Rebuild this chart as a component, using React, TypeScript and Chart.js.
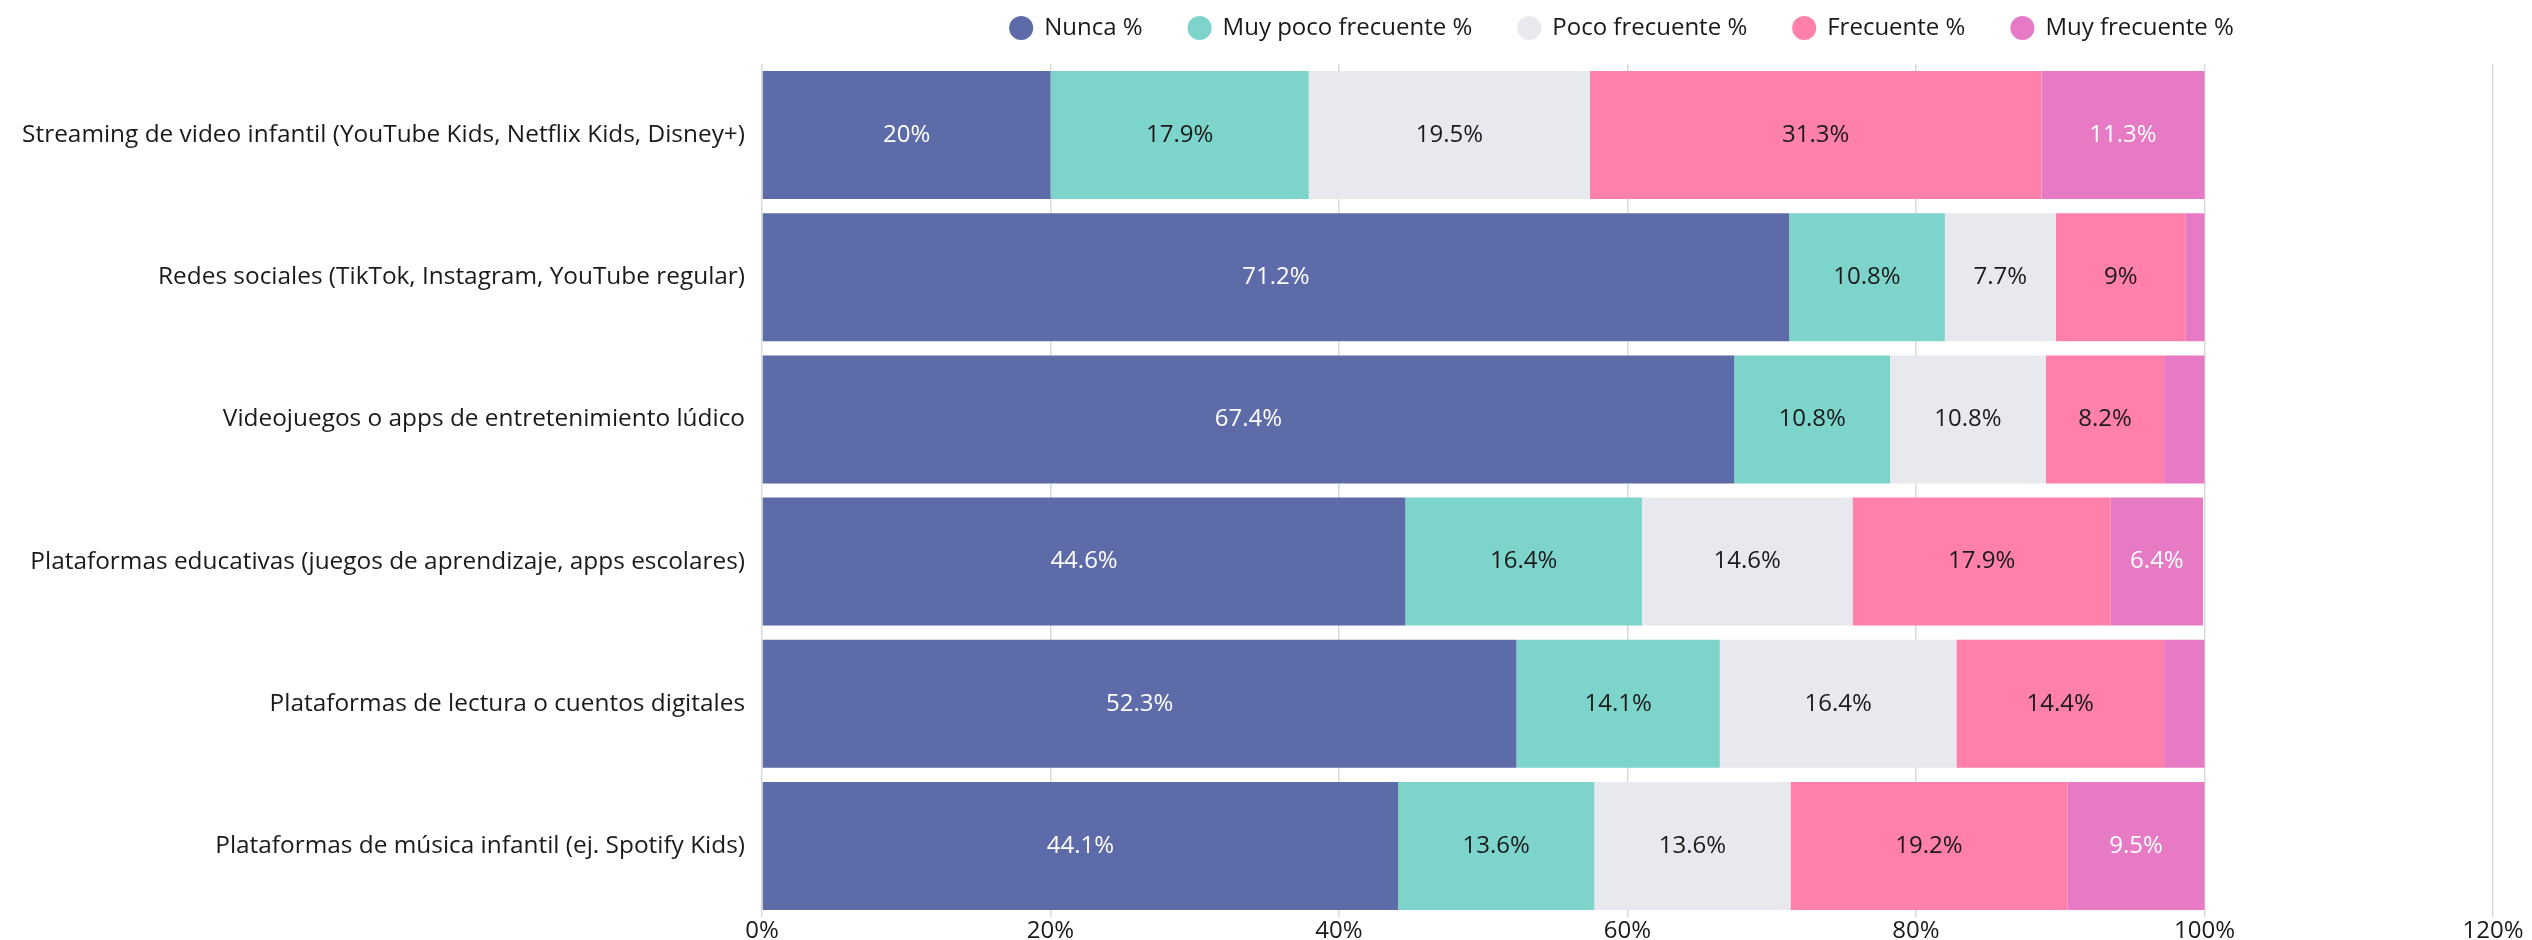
import React, { useEffect, useRef } from "react";
import { Chart, registerables } from "chart.js";

Chart.register(...registerables);

const FONT = "'Open Sans', sans-serif";
const FONT_SIZE = 24;
const Y_FONT_SIZE = 24.4;

const categories = [
  "Streaming de video infantil (YouTube Kids, Netflix Kids, Disney+)",
  "Redes sociales (TikTok, Instagram, YouTube regular)",
  "Videojuegos o apps de entretenimiento lúdico",
  "Plataformas educativas (juegos de aprendizaje, apps escolares)",
  "Plataformas de lectura o cuentos digitales",
  "Plataformas de música infantil (ej. Spotify Kids)",
];

const seriesNames = [
  "Nunca %",
  "Muy poco frecuente %",
  "Poco frecuente %",
  "Frecuente %",
  "Muy frecuente %",
];

const nunca = [20, 71.2, 67.4, 44.6, 52.3, 44.1];
const muyPocoFrecuente = [17.9, 10.8, 10.8, 16.4, 14.1, 13.6];
const pocoFrecuente = [19.5, 7.7, 10.8, 14.6, 16.4, 13.6];
const frecuente = [31.3, 9, 8.2, 17.9, 14.4, 19.2];
const muyFrecuente = [11.3, 1.3, 2.8, 6.4, 2.8, 9.5];

const xTickValues = [0, 20, 40, 60, 80, 100, 120];

const seriesColors = ["#5D6BA8", "#7DD4CB", "#E8E9EE", "#FF80AB", "#E77AC4"];
const labelColors = ["#FFFFFF", "#1A1A1A", "#1A1A1A", "#1A1A1A", "#FFFFFF"];

const valueLabels = {
  id: "valueLabels",
  afterDatasetsDraw(chart: any) {
    const ctx = chart.ctx;
    ctx.save();
    ctx.font = `${FONT_SIZE}px ${FONT}`;
    ctx.textAlign = "center";
    ctx.textBaseline = "middle";
    chart.data.datasets.forEach((ds: any, di: number) => {
      const meta = chart.getDatasetMeta(di);
      meta.data.forEach((el: any, i: number) => {
        const v = ds.data[i];
        if (v < 5) return;
        const { x, base, y } = el.getProps(["x", "base", "y"], true);
        ctx.fillStyle = labelColors[di];
        ctx.fillText(`${v}%`, (x + base) / 2, y);
      });
    });
    ctx.restore();
  },
};

const topLegend = {
  id: "topLegend",
  afterDraw(chart: any) {
    const { ctx, chartArea } = chart;
    ctx.save();
    ctx.font = `${FONT_SIZE}px ${FONT}`;
    const R = 12;
    const GAP_TEXT = 23;
    const GAP_ITEM = 45;
    const items = chart.data.datasets.map((ds: any) => ({
      label: ds.label,
      color: ds.backgroundColor,
      w: ctx.measureText(ds.label).width,
    }));
    const total =
      items.reduce((s: number, it: any) => s + R + GAP_TEXT + it.w, 0) +
      GAP_ITEM * (items.length - 1);
    let x = (chartArea.left + chartArea.right) / 2 - 6 - total / 2;
    const y = 28;
    items.forEach((it: any) => {
      ctx.beginPath();
      ctx.fillStyle = it.color;
      ctx.arc(x + R, y, R, 0, Math.PI * 2);
      ctx.fill();
      ctx.fillStyle = "#1A1A1A";
      ctx.textAlign = "left";
      ctx.textBaseline = "middle";
      ctx.fillText(it.label, x + R + GAP_TEXT, y);
      x += R + GAP_TEXT + it.w + GAP_ITEM;
    });
    ctx.restore();
  },
};

export default function App() {
  const canvasRef = useRef<HTMLCanvasElement | null>(null);

  useEffect(() => {
    const canvas = canvasRef.current;
    if (!canvas) return;
    const seriesValues = [nunca, muyPocoFrecuente, pocoFrecuente, frecuente, muyFrecuente];
    const chart = new Chart(canvas, {
      type: "bar",
      data: {
        labels: categories,
        datasets: seriesNames.map((name, i) => ({
          label: name,
          data: seriesValues[i],
          backgroundColor: seriesColors[i],
          borderWidth: 0,
          barPercentage: 0.9,
          categoryPercentage: 1,
        })),
      },
      options: {
        indexAxis: "y",
        responsive: false,
        animation: false,
        devicePixelRatio: 1,
        layout: { padding: { top: 64, left: 0, right: 0, bottom: 0 } },
        plugins: {
          legend: { display: false },
          tooltip: { enabled: false },
        },
        scales: {
          x: {
            stacked: true,
            min: 0,
            max: 120,
            afterBuildTicks(scale: any) {
              scale.ticks = xTickValues.map((v) => ({ value: v }));
            },
            ticks: {
              callback: (v: any) => `${v}%`,
              font: { family: FONT, size: FONT_SIZE },
              color: "#1A1A1A",
              padding: 0,
              maxRotation: 0,
            },
            grid: {
              color: "#D9D9D9",
              lineWidth: 1.5,
              drawTicks: false,
            },
            border: { display: false },
            afterFit(scale: any) {
              scale.height = 23;
              scale.paddingLeft = 0;
              scale.paddingRight = 39;
            },
          },
          y: {
            stacked: true,
            ticks: {
              font: { family: FONT, size: Y_FONT_SIZE },
              color: "#1A1A1A",
              padding: 17,
            },
            grid: { display: false, drawTicks: false },
            border: { display: false },
            afterFit(scale: any) {
              scale.width = 762;
              scale.paddingTop = 0;
              scale.paddingBottom = 0;
            },
          },
        },
      },
      plugins: [valueLabels, topLegend],
    });
    return () => chart.destroy();
  }, []);

  return (
    <canvas
      ref={canvasRef}
      width={2532}
      height={940}
      style={{ position: "fixed", left: 0, top: 0, width: 2532, height: 940, display: "block", background: "#FFFFFF" }}
    />
  );
}
